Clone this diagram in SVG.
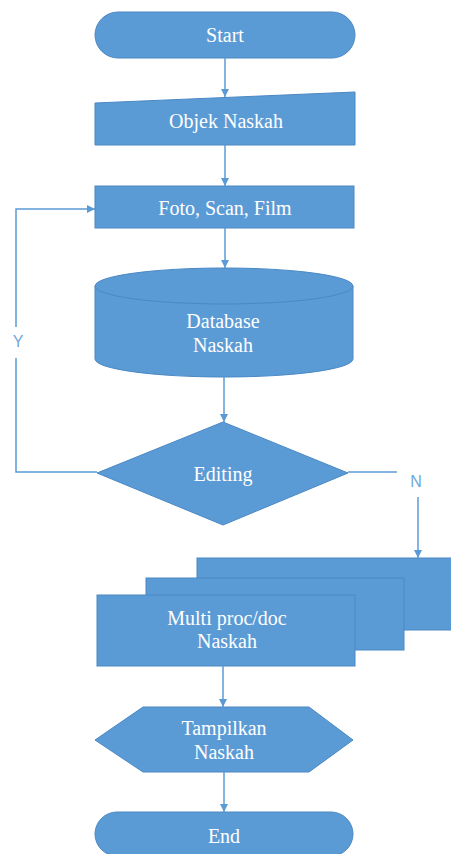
<svg xmlns="http://www.w3.org/2000/svg" width="451" height="854" viewBox="0 0 451 854">
  <defs>
    <marker id="arrow" viewBox="0 0 10 10" refX="10" refY="5" markerWidth="8" markerHeight="8" markerUnits="userSpaceOnUse" orient="auto">
      <path d="M0,0 L10,5 L0,10 z" fill="#5B9BD5"/>
    </marker>
  </defs>
  <style>
    .shape { fill: #5B9BD5; stroke: #4A88C4; stroke-width: 1; }
    .label { fill: #ffffff; font-family: "Liberation Serif", "Times New Roman", serif; font-size: 20px; text-anchor: middle; }
    .edge { fill: none; stroke: #5B9BD5; stroke-width: 1.5; }
    .tag { fill: #6FA7DA; font-family: "Liberation Sans", Arial, sans-serif; font-size: 16px; text-anchor: middle; }
  </style>
  <rect width="451" height="854" fill="#ffffff"/>

  <g id="start">
    <rect class="shape" x="95" y="12" width="260" height="46" rx="23" ry="23"/>
    <text class="label" x="225" y="42">Start</text>
  </g>

  <g id="objek-naskah">
    <polygon class="shape" points="95,103 355,92 355,145 95,145"/>
    <text class="label" x="226" y="128">Objek Naskah</text>
  </g>

  <g id="foto-scan-film">
    <rect class="shape" x="95" y="186" width="259" height="42"/>
    <text class="label" x="225" y="215">Foto, Scan, Film</text>
  </g>

  <g id="database-naskah">
    <path class="shape" d="M95,286 A129,18 0 0 1 353,286 L353,359 A129,18 0 0 1 95,359 Z"/>
    <path d="M95,286 A129,18 0 0 0 353,286" fill="none" stroke="#4A88C4" stroke-width="1"/>
    <text class="label" x="223" y="328">Database</text>
    <text class="label" x="223" y="352">Naskah</text>
  </g>

  <g id="editing">
    <polygon class="shape" points="97,473 223,422 348,473 223,525"/>
    <text class="label" x="223" y="481">Editing</text>
  </g>

  <g id="multi-doc">
    <rect class="shape" x="197" y="558" width="260" height="72"/>
    <rect class="shape" x="146" y="578" width="258" height="72"/>
    <rect class="shape" x="97" y="595" width="258" height="71"/>
    <text class="label" x="227" y="625">Multi proc/doc</text>
    <text class="label" x="227" y="648">Naskah</text>
  </g>

  <g id="tampilkan-naskah">
    <polygon class="shape" points="95,740 143,707 309,707 353,740 309,772 143,772"/>
    <text class="label" x="224" y="735">Tampilkan</text>
    <text class="label" x="224" y="759">Naskah</text>
  </g>

  <g id="end">
    <rect class="shape" x="95" y="812" width="258" height="44" rx="22" ry="22"/>
    <text class="label" x="224" y="843">End</text>
  </g>

  <g id="connectors">
    <line class="edge" x1="225" y1="58" x2="225" y2="97" marker-end="url(#arrow)"/>
    <line class="edge" x1="225" y1="145" x2="225" y2="186" marker-end="url(#arrow)"/>
    <line class="edge" x1="225" y1="228" x2="225" y2="268" marker-end="url(#arrow)"/>
    <line class="edge" x1="224" y1="377" x2="224" y2="422" marker-end="url(#arrow)"/>
    <!-- Y branch: loops back to Foto, Scan, Film -->
    <polyline class="edge" points="97,472 16,472 16,358"/>
    <polyline class="edge" points="16,327 16,209 95,209" marker-end="url(#arrow)"/>
    <text class="tag" x="18" y="347">Y</text>
    <!-- N branch: down to the document stack -->
    <line class="edge" x1="348" y1="472" x2="397" y2="472"/>
    <text class="tag" x="416" y="487">N</text>
    <line class="edge" x1="418" y1="497" x2="418" y2="558" marker-end="url(#arrow)"/>
    <line class="edge" x1="223" y1="666" x2="223" y2="707" marker-end="url(#arrow)"/>
    <line class="edge" x1="224" y1="772" x2="224" y2="812" marker-end="url(#arrow)"/>
  </g>
</svg>
